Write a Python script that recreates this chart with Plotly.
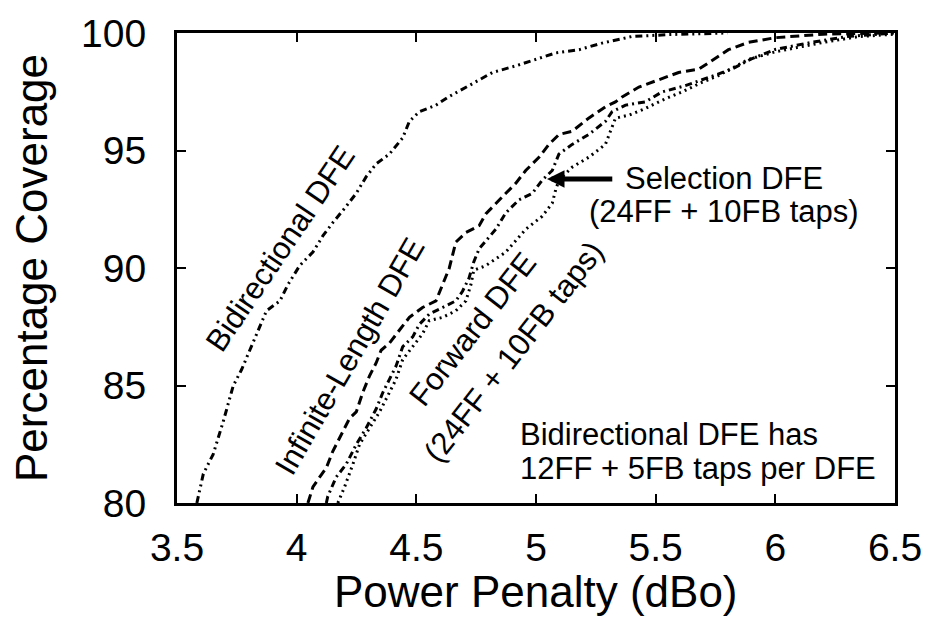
import plotly.graph_objects as go

# ---- data ----
bidir_x = [3.583, 3.61, 3.651, 3.693, 3.735, 3.77, 3.804, 3.839, 3.874, 3.93, 3.964, 4.0125, 4.068,
           4.11, 4.151, 4.207, 4.249, 4.29, 4.332, 4.3875, 4.443, 4.471, 4.5125, 4.582, 4.6375, 4.72,
           4.818, 4.915, 4.999, 5.082, 5.18, 5.276, 5.4, 5.55, 5.8]
bidir_y = [80.0, 81.24, 82.07, 83.46, 84.99, 85.68, 86.5, 87.35, 88.18, 88.6, 89.3, 90.1, 90.68,
           91.375, 91.93, 92.625, 93.18, 93.875, 94.43, 94.85, 95.54, 96.24, 96.65, 96.93, 97.3, 97.76,
           98.32, 98.6, 98.875, 99.15, 99.29, 99.57, 99.85, 99.93, 100.0]

inf_x = [4.047, 4.068, 4.096, 4.124, 4.151, 4.193, 4.221, 4.249, 4.276, 4.304, 4.332, 4.353, 4.3875,
         4.429, 4.471, 4.526, 4.582, 4.6375, 4.665, 4.707, 4.7625, 4.79, 4.832, 4.874, 4.915, 4.957,
         5.0125, 5.054, 5.096, 5.151, 5.22, 5.29, 5.332, 5.36, 5.43, 5.499, 5.596, 5.68, 5.804, 5.8875,
         6.0, 6.2, 6.45]
inf_y = [80.0, 80.68, 81.1, 81.5, 82.2, 83.04, 83.6, 83.875, 84.7, 85.4, 85.96, 86.5, 86.8,
         87.35, 87.9, 88.32, 88.6, 89.99, 91.1, 91.51, 91.8, 92.3, 92.76, 93.18, 93.6, 94.15,
         94.71, 95.26, 95.68, 95.82, 96.375, 96.86, 97.07, 97.28, 97.7, 97.97, 98.32, 98.46, 99.29, 99.6,
         99.8, 99.95, 100.0]

sel_x = [4.124, 4.13, 4.165, 4.207, 4.249, 4.29, 4.332, 4.36, 4.3875, 4.415, 4.443, 4.485, 4.5125,
         4.554, 4.61, 4.665, 4.693, 4.72, 4.74, 4.7625, 4.832, 4.874, 4.929, 4.985, 5.026, 5.068,
         5.096, 5.151, 5.22, 5.29, 5.318, 5.374, 5.457, 5.526, 5.624, 5.735, 5.818, 5.9, 6.0, 6.15,
         6.3, 6.5]
sel_y = [80.0, 80.28, 81.1, 81.65, 82.49, 83.18, 84.0, 84.7, 85.26, 85.82, 86.65, 87.07, 87.6,
         88.04, 88.32, 88.6, 89.01, 89.57, 90.26, 90.82, 91.65, 92.35, 92.9, 93.18, 93.74, 94.15,
         94.85, 95.26, 95.68, 96.24, 96.65, 96.93, 97.07, 97.49, 97.76, 98.18, 98.46, 98.9, 99.3, 99.6,
         99.85, 100.0]

fwd_x = [4.172, 4.2, 4.235, 4.2625, 4.304, 4.346, 4.3875, 4.415, 4.443, 4.485, 4.526, 4.554, 4.61,
         4.665, 4.707, 4.728, 4.74, 4.79, 4.874, 4.957, 5.026, 5.068, 5.082, 5.096, 5.137, 5.151,
         5.22, 5.29, 5.311, 5.332, 5.39, 5.457, 5.54, 5.61, 5.693, 5.76, 5.8875, 6.0, 6.2, 6.35, 6.5]
fwd_y = [80.0, 80.68, 81.65, 82.49, 83.18, 83.875, 84.7, 85.26, 86.1, 86.65, 87.2, 87.76, 87.9,
         88.18, 88.6, 89.29, 89.9, 90.1, 90.68, 91.65, 92.2, 92.76, 93.32, 93.74, 94.15, 94.29,
         94.71, 95.26, 95.82, 96.375, 96.51, 96.79, 97.2, 97.49, 97.9, 98.18, 98.875, 99.2, 99.6, 99.85,
         99.95]

x_ticks = [3.5, 4, 4.5, 5, 5.5, 6, 6.5]
x_tick_labels = ["3.5", "4", "4.5", "5", "5.5", "6", "6.5"]
y_ticks = [80, 85, 90, 95, 100]
y_tick_labels = ["80", "85", "90", "95", "100"]

FONT = "Liberation Sans, Arial, Helvetica, sans-serif"

fig = go.Figure()
styles = [
    (bidir_x, bidir_y, "7px,4px,2px,4px,2px,4px", "Bidirectional DFE"),
    (inf_x, inf_y, "9px,5px", "Infinite-Length DFE"),
    (sel_x, sel_y, "7px,4px,2px,4px", "Selection DFE"),
    (fwd_x, fwd_y, "2px,4px", "Forward DFE"),
]
for xs, ys, dash, name in styles:
    fig.add_trace(go.Scatter(x=xs, y=ys, mode="lines", name=name,
                             line=dict(color="black", width=3, dash=dash),
                             showlegend=False))

ann_font = dict(family=FONT, size=31, color="black")
annotations = [
    dict(text="Bidirectional DFE", x=3.933, y=90.81, textangle=-56),
    dict(text="Infinite-Length DFE", x=4.2208, y=86.25, textangle=-60),
    dict(text="Forward DFE", x=4.735, y=87.375, textangle=-52),
    dict(text="(24FF + 10FB taps)", x=4.908, y=86.44, textangle=-52),
    dict(text="Selection DFE", x=5.7875, y=93.79),
    dict(text="(24FF + 10FB taps)", x=5.7875, y=92.42),
    dict(text="Bidirectional DFE has", x=4.925, y=82.92, xanchor="left"),
    dict(text="12FF + 5FB taps per DFE", x=4.925, y=81.46, xanchor="left"),
]
for a in annotations:
    fig.add_annotation(xref="x", yref="y", showarrow=False, font=ann_font, **a)

fig.add_annotation(xref="x", yref="y", axref="x", ayref="y", x=5.046, y=93.79, ax=5.325, ay=93.79,
                   showarrow=True, arrowhead=2, arrowwidth=5, arrowsize=0.7, arrowcolor="black", text="")

# axis titles placed as paper annotations
title_font = dict(family=FONT, size=44, color="black")
fig.add_annotation(xref="paper", yref="paper", x=0.5, y=0, yanchor="middle", yshift=-88,
                   showarrow=False, text="Power Penalty (dBo)", font=title_font)
fig.add_annotation(xref="paper", yref="paper", x=0, y=0.5, xanchor="center", xshift=-146,
                   textangle=-90, showarrow=False, text="Percentage Coverage", font=title_font)

axis_common = dict(showline=True, linecolor="black", linewidth=3, mirror="ticks",
                   ticks="inside", ticklen=9, tickwidth=2, tickcolor="black",
                   showgrid=False, zeroline=False,
                   tickfont=dict(family=FONT, size=39, color="black"))

fig.update_xaxes(range=[3.5, 6.5], tickvals=x_ticks, ticktext=x_tick_labels,
                 ticklabelstandoff=8, **axis_common)
fig.update_yaxes(range=[80, 100], tickvals=y_ticks, ticktext=y_tick_labels,
                 ticklabelstandoff=20, **axis_common)

fig.update_layout(width=934, height=637, margin=dict(l=177, r=38, t=23, b=134),
                  plot_bgcolor="white", paper_bgcolor="white")

fig.write_html("out.html")
